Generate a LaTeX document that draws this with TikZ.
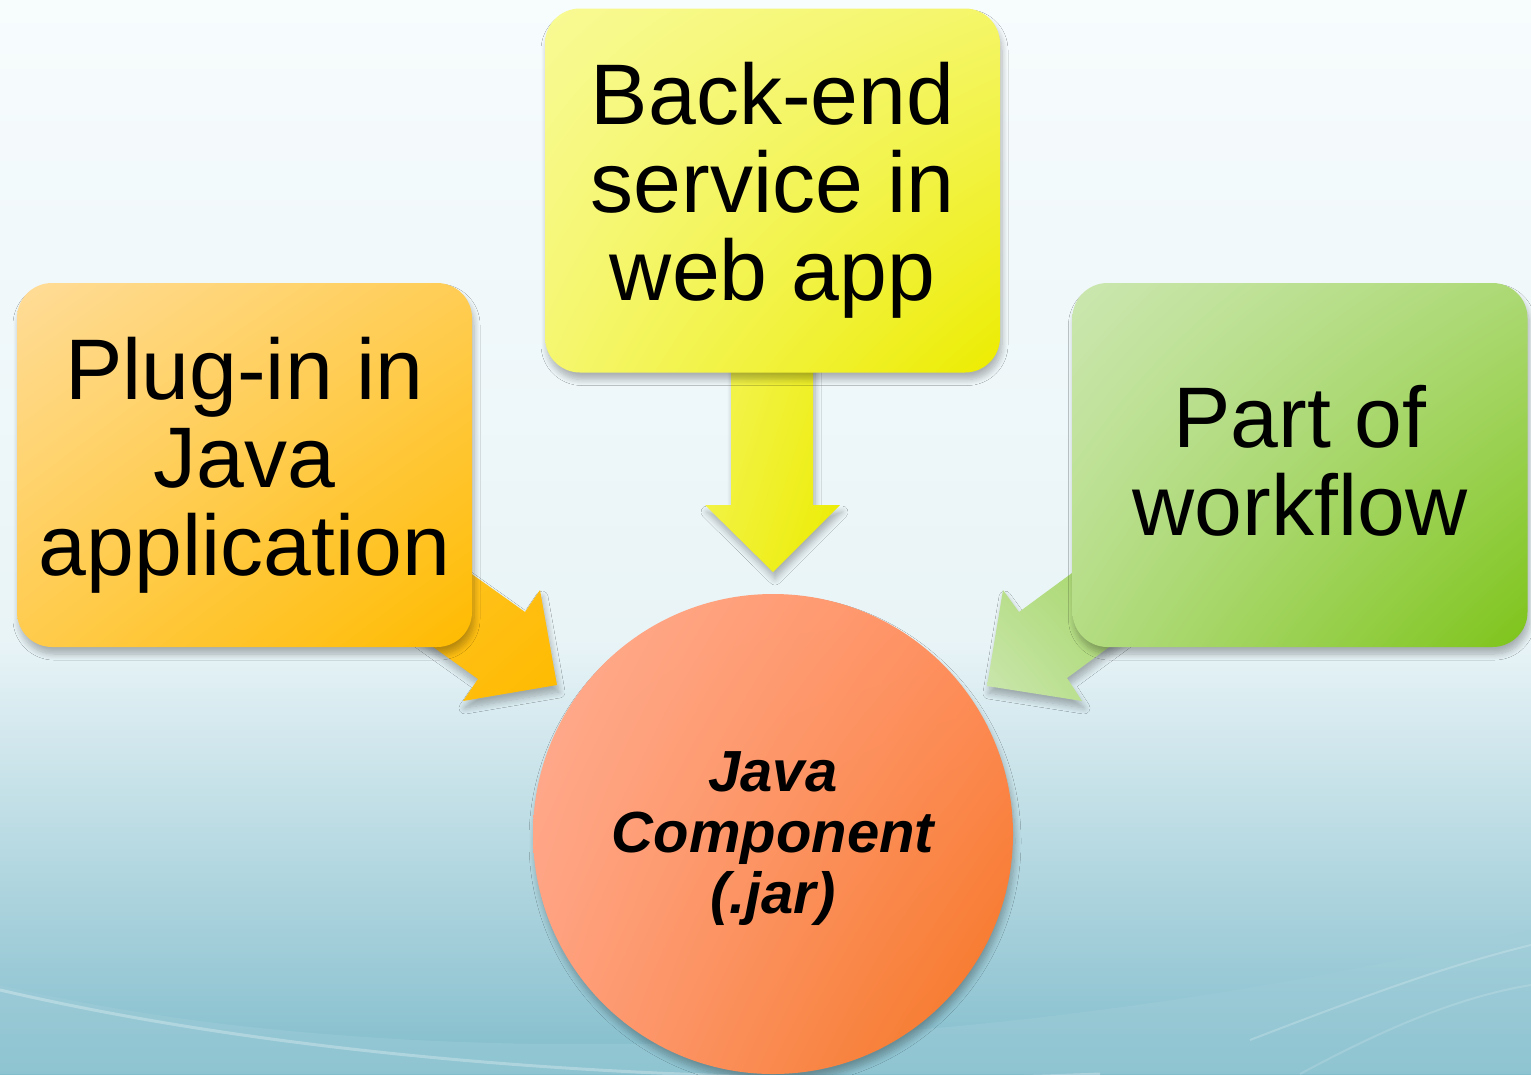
\documentclass[tikz,border=0pt]{standalone}
\usepackage{fontspec}
\setmainfont{Liberation Sans}
\usetikzlibrary{shadows.blur,shadings}
\definecolor{bgtop}{HTML}{F7FCFD}
\definecolor{bgmid}{HTML}{E9F4F7}
\definecolor{bgbot}{HTML}{82BDCC}
\definecolor{yUL}{HTML}{F8FA94}
\definecolor{yLR}{HTML}{ECEC00}
\definecolor{oUL}{HTML}{FFDC98}
\definecolor{oLR}{HTML}{FFBB00}
\definecolor{gUL}{HTML}{CBE7B0}
\definecolor{gLR}{HTML}{7EC41A}
\definecolor{cUL}{HTML}{FFAE92}
\definecolor{cLL}{HTML}{FF9E7C}
\definecolor{cUR}{HTML}{FF8E5E}
\definecolor{cLR}{HTML}{F4741E}
\tikzset{
  shad/.style={blur shadow={shadow xshift=2pt, shadow yshift=-7pt, shadow blur steps=8, shadow blur radius=6pt, shadow opacity=28}},
  box/.style={rounded corners=35pt, minimum width=455pt, minimum height=364pt, align=center, text=black,
    font=\fontsize{86}{88}\selectfont, shad},
  boxtext/.style={align=center, text=black, font=\fontsize{86}{88}\selectfont},
  hub/.style={circle, minimum size=480pt, shad},
  hubtext/.style={align=center, text=black, font=\fontsize{58}{61}\selectfont\bfseries\itshape},
  blockarrow/.style={shad}
}
\begin{document}
\begin{tikzpicture}[x=1pt,y=-1pt]
\useasboundingbox (0,0) rectangle (1531,1074);
% background
\shade[top color=bgtop, bottom color=bgmid] (0,0) rectangle (1531,640);
\shade[top color=bgmid, bottom color=bgbot] (0,639) rectangle (1531,1074);
\fill[bgbot!70!bgmid, opacity=0.4] (0,985) .. controls (400,1080) and (1000,1060) .. (1531,930) -- (1531,1074) -- (0,1074) -- cycle;
\draw[white, opacity=0.28, line width=3pt] (0,990) .. controls (300,1060) and (700,1090) .. (1100,1074);
\draw[white, opacity=0.2, line width=2pt] (1250,1040) .. controls (1380,990) and (1450,965) .. (1531,945);
\draw[white, opacity=0.15, line width=2pt] (1300,1074) .. controls (1400,1020) and (1470,995) .. (1531,985);

% arrows
\shade[blockarrow, upper left=yUL!60!yLR, lower right=yLR, upper right=yLR!80!yUL, lower left=yUL!40!yLR]
  (731,360) -- (813,360) -- (813,505) -- (840,505) -- (773,572) -- (705,505) -- (731,505) -- cycle;
\shade[blockarrow, upper left=oLR!70!oUL, lower right=oLR, upper right=oLR!85!oUL, lower left=oLR!85!oUL]
  (403,525) -- (525,612) -- (540,590) -- (557,685) -- (463,701) -- (478,679) -- (356,592) -- cycle;
\shade[blockarrow, upper left=gLR!35!gUL, lower right=gLR!45!gUL, upper right=gLR!60!gUL, lower left=gUL]
  (1140,523) -- (1019,612) -- (1003,590) -- (987,686) -- (1082,701) -- (1067,678) -- (1188,589) -- cycle;

% boxes
\node[box, upper left=yUL, upper right=yUL!70!yLR, lower left=yUL!75!yLR, lower right=yLR] (back) at (772.5,190.5)
  {Back-end\\service in\\web app};
\node[box, upper left=oUL, upper right=oUL!55!oLR, lower left=oUL!50!oLR, lower right=oLR] (plug) at (244.5,465)
  {Plug-in in\\Java\\application};
\node[box, upper left=gUL, upper right=gUL!60!gLR, lower left=gUL!70!gLR, lower right=gLR] (part) at (1300,465) {};
\node[boxtext] (parttext) at ([yshift=4pt]part.center) {Part of\\workflow};
\node[hub, upper left=cUL, lower left=cLL, upper right=cUR, lower right=cLR] (jar) at (773,834) {};
\node[hubtext] (jartext) at ([yshift=-5pt]jar.center) {Java\\Component\\(.jar)};
\end{tikzpicture}
\end{document}
